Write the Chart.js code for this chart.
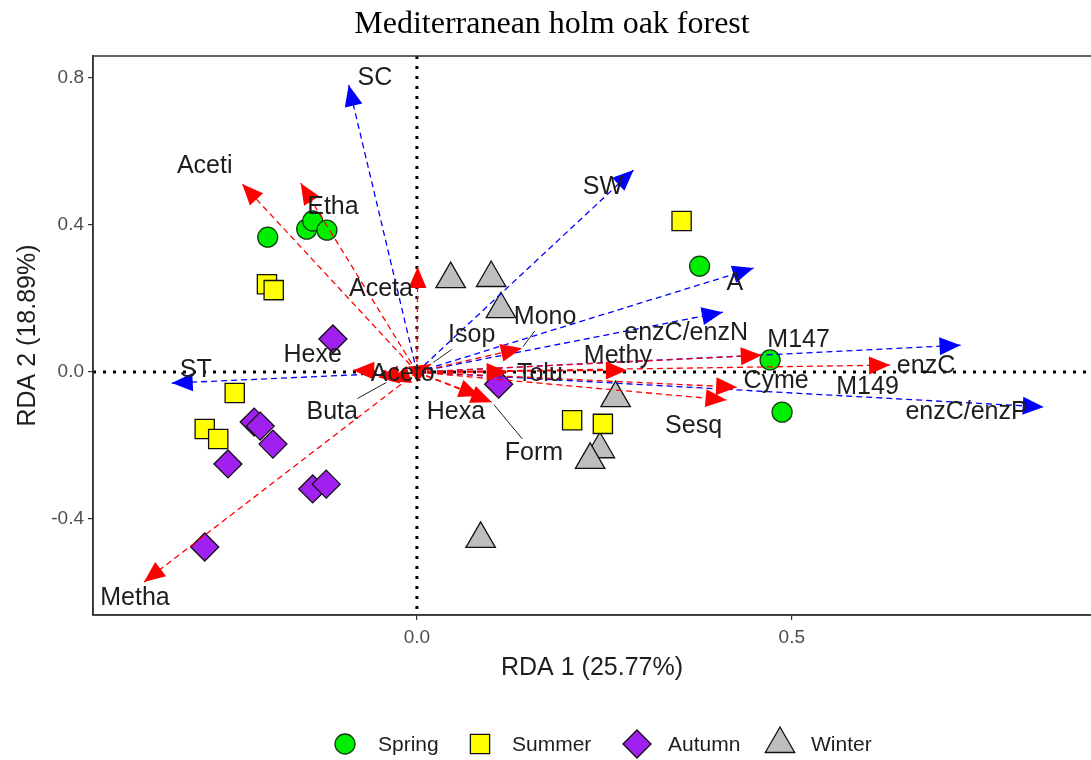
<!DOCTYPE html>
<html>
<head>
<meta charset="utf-8">
<script src="https://cdn.jsdelivr.net/npm/chart.js@4.4.1/dist/chart.umd.min.js"></script>
<style>
  html, body { margin: 0; padding: 0; background: #ffffff; }
  #wrap { width: 1091px; height: 760px; }
</style>
</head>
<body>
<div id="wrap"><canvas id="rda" width="1091" height="760"></canvas></div>
<script>
// ---- Site scores (RDA 1, RDA 2) per season ----
const seasonNames = ['Spring', 'Summer', 'Autumn', 'Winter'];

const springX = [-0.199, -0.147, -0.139, -0.120, 0.377, 0.471, 0.487];
const springY = [0.367, 0.389, 0.411, 0.386, 0.288, 0.033, -0.109];

const summerX = [0.353, -0.200, -0.191, -0.243, -0.283, -0.265, 0.207, 0.248];
const summerY = [0.411, 0.239, 0.223, -0.057, -0.155, -0.182, -0.131, -0.141];

const autumnX = [-0.112, 0.109, -0.217, -0.209, -0.192, -0.252, -0.139, -0.121, -0.283];
const autumnY = [0.090, -0.033, -0.136, -0.147, -0.196, -0.250, -0.318, -0.305, -0.476];

const winterX = [0.045, 0.099, 0.112, 0.265, 0.244, 0.231, 0.085];
const winterY = [0.253, 0.256, 0.171, -0.071, -0.210, -0.239, -0.454];

// ---- Environmental vectors (blue) ----
const envNames = ['SC', 'SW', 'A', 'enzC/enzN', 'enzC', 'enzC/enzP', 'ST'];
const envX = [-0.091, 0.289, 0.449, 0.408, 0.725, 0.836, -0.327];
const envY = [0.781, 0.550, 0.283, 0.163, 0.073, -0.095, -0.030];
const envLabelX = [-0.056, 0.248, 0.424, 0.359, 0.679, 0.733, -0.295];
const envLabelY = [0.800, 0.503, 0.242, 0.106, 0.016, -0.109, 0.005];

// ---- VOC vectors (red) ----
const vocNames = ['Aceti', 'Etha', 'Aceta', 'Hexe', 'Aceto', 'Buta', 'Metha', 'Isop', 'Mono',
                  'Tolu', 'Hexa', 'Form', 'Methy', 'Sesq', 'Cyme', 'M147', 'M149'];
const vocX = [-0.233, -0.155, 0.001, -0.085, -0.052, -0.037, -0.364, 0.019, 0.140,
              0.121, 0.084, 0.100, 0.280, 0.413, 0.427, 0.460, 0.631];
const vocY = [0.512, 0.514, 0.286, 0.005, -0.014, -0.024, -0.571, 0.022, 0.065,
              0.000, -0.065, -0.082, 0.005, -0.076, -0.041, 0.046, 0.019];
const vocLabelX = [-0.283, -0.112, -0.048, -0.139, -0.019, -0.113, -0.376, 0.073, 0.171,
                   0.164, 0.052, 0.156, 0.268, 0.369, 0.479, 0.509, 0.601];
const vocLabelY = [0.561, 0.449, 0.226, 0.046, -0.005, -0.110, -0.615, 0.100, 0.150,
                   -0.005, -0.110, -0.220, 0.044, -0.147, -0.025, 0.087, -0.040];
// labels that were pushed away from their arrow and carry a connector
const leaderLabels = ['Buta', 'Isop', 'Mono', 'Form'];

// ---- Axes ----
const xTicks = [0.0, 0.5];
const xTickLabels = ['0.0', '0.5'];
const yTicks = [-0.4, 0.0, 0.4, 0.8];
const yTickLabels = ['-0.4', '0.0', '0.4', '0.8'];
const xTitle = 'RDA 1 (25.77%)';
const yTitle = 'RDA 2 (18.89%)';
const chartTitle = 'Mediterranean holm oak forest';

// ---- Styling ----
const SANS = "'Liberation Sans', Arial, sans-serif";
const SERIF = "'Liberation Serif', 'Times New Roman', serif";
const seasonStyle = {
  Spring: { pointStyle: 'circle',  radius: 10,   fill: '#00ee00', stroke: '#0d3d0d' },
  Summer: { pointStyle: 'rect',    radius: 13.6, fill: '#ffff00', stroke: '#111111' },
  Autumn: { pointStyle: 'rectRot', radius: 14,   fill: '#a020f0', stroke: '#111111' },
  Winter: { pointStyle: 'triangle',radius: 17,   fill: '#bebebe', stroke: '#111111' }
};
const ENV_COLOR = '#0000ff';
const VOC_COLOR = '#ff0000';

const zip = (xs, ys) => xs.map((x, i) => ({ x: x, y: ys[i] }));
const seasonData = {
  Spring: zip(springX, springY),
  Summer: zip(summerX, summerY),
  Autumn: zip(autumnX, autumnY),
  Winter: zip(winterX, winterY)
};

const datasets = [];
seasonNames.forEach(name => {
  const s = seasonStyle[name];
  datasets.push({
    label: name,
    data: seasonData[name],
    pointStyle: s.pointStyle,
    pointRadius: s.radius,
    pointHoverRadius: s.radius,
    backgroundColor: s.fill,
    borderColor: s.stroke,
    pointBorderWidth: 1.3,
    showLine: false,
    order: 3
  });
});

function vectorDataset(name, x, y, color) {
  return {
    label: name,
    data: [{ x: 0, y: 0 }, { x: x, y: y }],
    showLine: true,
    borderColor: color,
    backgroundColor: color,
    borderWidth: 1.3,
    borderDash: [6, 4],
    pointRadius: 0,
    pointHoverRadius: 0,
    fill: false,
    order: 2
  };
}
vocNames.forEach((n, i) => datasets.push(vectorDataset(n, vocX[i], vocY[i], VOC_COLOR)));
envNames.forEach((n, i) => datasets.push(vectorDataset(n, envX[i], envY[i], ENV_COLOR)));

// dotted reference lines through the origin
const originLines = {
  id: 'originLines',
  beforeDatasetsDraw(chart) {
    const { ctx, chartArea: a, scales: { x, y } } = chart;
    const x0 = x.getPixelForValue(0), y0 = y.getPixelForValue(0);
    ctx.save();
    ctx.beginPath();
    ctx.rect(a.left, a.top, a.right - a.left, a.bottom - a.top);
    ctx.clip();
    ctx.strokeStyle = '#000000';
    ctx.lineWidth = 3;
    ctx.setLineDash([3, 7]);
    ctx.beginPath();
    ctx.moveTo(a.left, y0); ctx.lineTo(a.right, y0);
    ctx.moveTo(x0, a.top); ctx.lineTo(x0, a.bottom);
    ctx.stroke();
    ctx.restore();
  }
};

// arrowheads, vector labels and connectors
const vectorDecor = {
  id: 'vectorDecor',
  afterDatasetsDraw(chart) {
    const { ctx, scales: { x, y } } = chart;
    const ox = x.getPixelForValue(0), oy = y.getPixelForValue(0);
    ctx.save();
    const head = (tx, ty, color) => {
      const a = Math.atan2(ty - oy, tx - ox);
      const L = 21, W = 9;
      const bx = tx - L * Math.cos(a), by = ty - L * Math.sin(a);
      ctx.fillStyle = color;
      ctx.beginPath();
      ctx.moveTo(tx, ty);
      ctx.lineTo(bx + W * Math.sin(a), by - W * Math.cos(a));
      ctx.lineTo(bx - W * Math.sin(a), by + W * Math.cos(a));
      ctx.closePath();
      ctx.fill();
    };
    vocNames.forEach((n, i) => head(x.getPixelForValue(vocX[i]), y.getPixelForValue(vocY[i]), VOC_COLOR));
    envNames.forEach((n, i) => head(x.getPixelForValue(envX[i]), y.getPixelForValue(envY[i]), ENV_COLOR));

    ctx.font = '25px ' + SANS;
    ctx.textAlign = 'center';
    ctx.textBaseline = 'middle';
    const labels = [];
    vocNames.forEach((n, i) => labels.push([n, vocLabelX[i], vocLabelY[i], vocX[i], vocY[i]]));
    envNames.forEach((n, i) => labels.push([n, envLabelX[i], envLabelY[i], envX[i], envY[i]]));

    // connectors first, so text sits above them
    ctx.strokeStyle = '#222222';
    ctx.lineWidth = 1;
    ctx.setLineDash([]);
    labels.forEach(([n, lx, ly, tx, ty]) => {
      if (!leaderLabels.includes(n)) return;
      const cx = x.getPixelForValue(lx), cy = y.getPixelForValue(ly);
      const px = x.getPixelForValue(tx), py = y.getPixelForValue(ty);
      const hw = ctx.measureText(n).width / 2 + 3, hh = 14;
      const dx = px - cx, dy = py - cy;
      const t = Math.min(hw / Math.abs(dx || 1e-9), hh / Math.abs(dy || 1e-9));
      const sx = cx + dx * t, sy = cy + dy * t;
      ctx.beginPath();
      ctx.moveTo(sx, sy);
      ctx.lineTo(px - dx * 0.05, py - dy * 0.05);
      ctx.stroke();
    });

    ctx.fillStyle = '#1e1e1e';
    labels.forEach(([n, lx, ly]) => {
      ctx.fillText(n, x.getPixelForValue(lx), y.getPixelForValue(ly));
    });
    ctx.restore();
  }
};

// panel frame, title, axis titles and the season key
const frameAndText = {
  id: 'frameAndText',
  afterDraw(chart) {
    const { ctx, chartArea: a } = chart;
    ctx.save();
    ctx.strokeStyle = '#333333';
    ctx.lineWidth = 1.5;
    ctx.setLineDash([]);
    // the panel runs up to the right edge of the canvas
    ctx.strokeRect(a.left, a.top, a.right - a.left + 2, a.bottom - a.top);

    ctx.fillStyle = '#000000';
    ctx.textAlign = 'center';
    ctx.textBaseline = 'middle';
    ctx.font = '32px ' + SERIF;
    ctx.fillText(chartTitle, 552, 25);

    ctx.fillStyle = '#1e1e1e';
    ctx.font = '25px ' + SANS;
    ctx.fillText(xTitle, (a.left + a.right) / 2, 668);
    ctx.save();
    ctx.translate(28, (a.top + a.bottom) / 2);
    ctx.rotate(-Math.PI / 2);
    ctx.fillText(yTitle, 0, 0);
    ctx.restore();

    // legend
    const keyY = 744;
    const keyX = [345, 480, 637, 780];
    const textX = [378, 512, 668, 811];
    ctx.font = '21px ' + SANS;
    ctx.textAlign = 'left';
    seasonNames.forEach((name, i) => {
      const s = seasonStyle[name];
      ctx.fillStyle = s.fill;
      ctx.strokeStyle = s.stroke;
      ctx.lineWidth = 1.3;
      Chart.helpers.drawPoint(ctx, { pointStyle: s.pointStyle, radius: s.radius, rotation: 0, borderWidth: 1.3 }, keyX[i], keyY);
      ctx.fillStyle = '#1e1e1e';
      ctx.fillText(name, textX[i], keyY + 1);
    });
    ctx.restore();
  }
};

const tickFont = { family: SANS, size: 19 };

new Chart(document.getElementById('rda'), {
  type: 'scatter',
  data: { datasets: datasets },
  options: {
    responsive: false,
    animation: false,
    devicePixelRatio: 1,
    layout: { autoPadding: false, padding: { top: 56, left: 0, right: 0, bottom: 0 } },
    plugins: {
      legend: { display: false },
      title: { display: false },
      tooltip: { enabled: false }
    },
    scales: {
      x: {
        type: 'linear',
        min: -0.432,
        max: 0.899,
        afterBuildTicks: s => { s.ticks = xTicks.map(v => ({ value: v })); },
        afterFit: s => { s.height = 145; },
        ticks: {
          autoSkip: false,
          maxRotation: 0,
          color: '#4d4d4d',
          font: tickFont,
          padding: 6,
          callback: v => xTickLabels[xTicks.indexOf(v)]
        },
        grid: { drawOnChartArea: false, drawTicks: true, tickLength: 5, color: '#333333', lineWidth: 1.2 },
        border: { display: true, color: '#333333', width: 1.5 }
      },
      y: {
        type: 'linear',
        min: -0.661,
        max: 0.860,
        afterBuildTicks: s => { s.ticks = yTicks.map(v => ({ value: v })); },
        afterFit: s => { s.width = 93; },
        ticks: {
          autoSkip: false,
          color: '#4d4d4d',
          font: tickFont,
          padding: 4,
          callback: v => yTickLabels[yTicks.indexOf(v)]
        },
        grid: { drawOnChartArea: false, drawTicks: true, tickLength: 5, color: '#333333', lineWidth: 1.2 },
        border: { display: true, color: '#333333', width: 1.5 }
      }
    }
  },
  plugins: [originLines, vectorDecor, frameAndText]
});
</script>
</body>
</html>
